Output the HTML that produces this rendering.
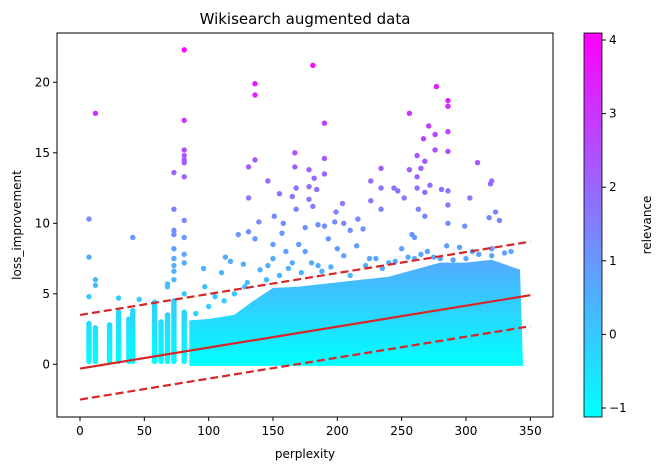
<!DOCTYPE html>
<html><head><meta charset="utf-8"><style>
body{margin:0;background:#fff;font-family:"Liberation Sans","DejaVu Sans",sans-serif}
svg text{font-family:"DejaVu Sans","Liberation Sans",sans-serif}
</style></head><body>
<svg id="c" width="663" height="470" viewBox="0 0 663 470" xmlns="http://www.w3.org/2000/svg">
<defs>
<linearGradient id="cb" x1="0" y1="1" x2="0" y2="0"><stop offset="0" stop-color="#00ffff"/><stop offset="1" stop-color="#ff00ff"/></linearGradient>
</defs>
<text x="305" y="24" font-size="15" text-anchor="middle">Wikisearch augmented data</text>
<g id="plot"></g>
<rect x="57" y="33" width="496" height="384" fill="none" stroke="#000" stroke-width="1"/>
<g id="axes"></g>
<text x="305" y="458" font-size="12" text-anchor="middle">perplexity</text>
<text transform="translate(21,225) rotate(-90)" font-size="12" text-anchor="middle">loss_improvement</text>
<rect x="584" y="33" width="18" height="384" fill="url(#cb)" stroke="#000" stroke-width="0.8"/>
<g id="cbticks"></g>
<text transform="translate(651,225) rotate(-90)" font-size="12" text-anchor="middle">relevance</text>
</svg>
<script>
const xTicks=[0,50,100,150,200,250,300,350];
const yTicks=[0,5,10,15,20];
const cbTicks=[-1,0,1,2,3,4];
const bandX=[85,100,120,135,150,170,200,220,240,260,280,300,320,342];
const bandTop=[2.9,3.0,3.3,4.3,5.2,5.3,5.6,5.8,6.0,6.5,7.0,7.0,7.2,6.5];
const colX=[7,12,23,30,38,41,58,63,68,73,81];
const colTop=[2.9,2.6,2.8,3.7,3.2,3.8,4.2,3.0,3.5,4.5,3.7];
const ptX=[12,7,7,7,12,12,30,41,46,58,68,68,73,73,73,73,73,73,73,73,73,81,81,81,81,81,81,81,81,81,81,81,81,96,97,110,113,117,123,127,131,131,131,136,136,136,136,139,146,146,151,155,157,158,165,167,167,168,168,175,178,178,178,181,181,182,184,185,190,190,190,190,193,198,199,204,205,210,216,220,226,226,234,234,234,244,247,252,256,256,258,262,262,262,263,265,267,268,268,268,271,272,276,276,277,281,286,286,286,286,286,286,286,299,303,309,319,320,323,326,318,150,160,170,175,200,215,230,250,260,270,285,295,305,320,335,140,150,165,185,205,225,240,260,280,300,320,130,120,105,155,162,172,180,188,195,210,222,235,245,255,265,275,290,310,330,145,128,112,100,90];
const ptY=[17.8,10.3,7.6,4.8,6,5.6,4.7,9,4.6,4.4,5.7,5.5,13.6,11,9.5,9.2,8.2,7.5,7,6.6,6,22.3,17.3,15.2,14.8,14.5,14.3,13.3,10.2,9,7.8,7.2,5,6.8,5.5,6.5,7.6,7.3,9.2,7.1,14,11.8,9.4,19.9,19.1,14.5,8.9,10.1,13,7,10.5,12.1,9.3,10,11.9,15,14,12.5,11,9.7,13.8,12.6,11.7,21.2,11.2,13.2,12.4,9.9,17.1,14.6,13.5,9.8,8.9,10.1,10.8,11.4,10,9.5,10.3,9.6,13,11.6,13.9,12.5,11,12.5,12.3,11.8,17.8,13.8,9.2,14.8,13.3,12.5,11,13.9,16,14.4,12.2,10.5,16.9,12.7,16.3,15.2,19.7,12.4,18.7,18.3,16.5,15.1,12.3,11.3,10,9.8,11.8,14.3,12.8,13,10.8,10.2,10.4,8.5,8,8.5,8,8.2,8.4,7.5,8.2,9,8,8.4,8.3,8,8.2,8,6.7,7.5,7.2,7,7.7,7.5,7.2,7.5,7.5,7.5,7.7,5.8,5,4.8,6.3,6.8,6.5,7.2,6.6,6.9,6.3,7.0,6.8,7.3,7.6,7.8,7.6,7.4,7.8,7.9,6.0,5.5,4.5,4.1,3.6];
const fitA=-0.3, fitB=5.2/350;
const NS='http://www.w3.org/2000/svg';
const X=v=>80+v*(450.3/350), Y=v=>364.3-v*14.1;
const CB=v=>408-(v+1)*73.6;
function rel(y){return Math.min(4.1,Math.max(-1.15,-1.15+y*0.238));}
function col(y){const t=(rel(y)+1.15)/5.25;return `rgb(${Math.round(255*t)},${Math.round(255*(1-t))},255)`;}
function mk(tag,a,p){const e=document.createElementNS(NS,tag);for(const k in a)e.setAttribute(k,a[k]);p.appendChild(e);return e;}
const plot=document.getElementById('plot'),axes=document.getElementById('axes'),cbt=document.getElementById('cbticks');
const defs=document.querySelector('defs');
const g=mk('linearGradient',{id:'bg',gradientUnits:'userSpaceOnUse',x1:0,y1:Y(0),x2:0,y2:Y(7)},defs);
mk('stop',{offset:0,'stop-color':col(0)},g);mk('stop',{offset:1,'stop-color':col(7)},g);
colX.forEach((x,i)=>{const r=mk('rect',{x:X(x)-2.7,y:Y(colTop[i])-2.7,width:5.4,height:Y(0.2)-Y(colTop[i])+5.4,rx:2.7,fill:'url(#bg)'},plot);

});
let d='M'+X(bandX[0])+','+(Y(0.1)+3);
bandX.forEach((x,i)=>{d+=' L'+X(x)+','+(Y(bandTop[i])-3);});
d+=' L'+(X(bandX[bandX.length-1])+3)+','+(Y(0.1)+3)+' Z';
const bp=mk('path',{d:d,fill:'url(#bg)'},plot);


ptX.forEach((x,i)=>{const c=mk('circle',{cx:X(x),cy:Y(ptY[i]),r:2.7,fill:col(ptY[i])},plot);

});
[[0,'none','fit-line'],[3.8,'8,4','upper-bound-line'],[-2.2,'8,4','lower-bound-line']].forEach(([off,da,n])=>{
const l=mk('line',{x1:X(0),y1:Y(fitA+off),x2:X(350),y2:Y(fitA+off+fitB*350),stroke:'#d62728','stroke-width':2.2,'stroke-dasharray':da},plot);

});
xTicks.forEach(v=>{mk('line',{x1:X(v),y1:417,x2:X(v),y2:421,stroke:'#000'},axes);
const t=mk('text',{x:X(v),y:435,'font-size':12,'text-anchor':'middle'},axes);t.textContent=v;

});
yTicks.forEach(v=>{mk('line',{x1:53,y1:Y(v),x2:57,y2:Y(v),stroke:'#000'},axes);
const t=mk('text',{x:50,y:Y(v)+4,'font-size':12,'text-anchor':'end'},axes);t.textContent=v;

});
cbTicks.forEach(v=>{mk('line',{x1:602,y1:CB(v),x2:606,y2:CB(v),stroke:'#000'},cbt);
const t=mk('text',{x:609,y:CB(v)+4,'font-size':12},cbt);t.textContent=v<0?'\u2212'+(-v):v;

});
</script>
</body></html>
